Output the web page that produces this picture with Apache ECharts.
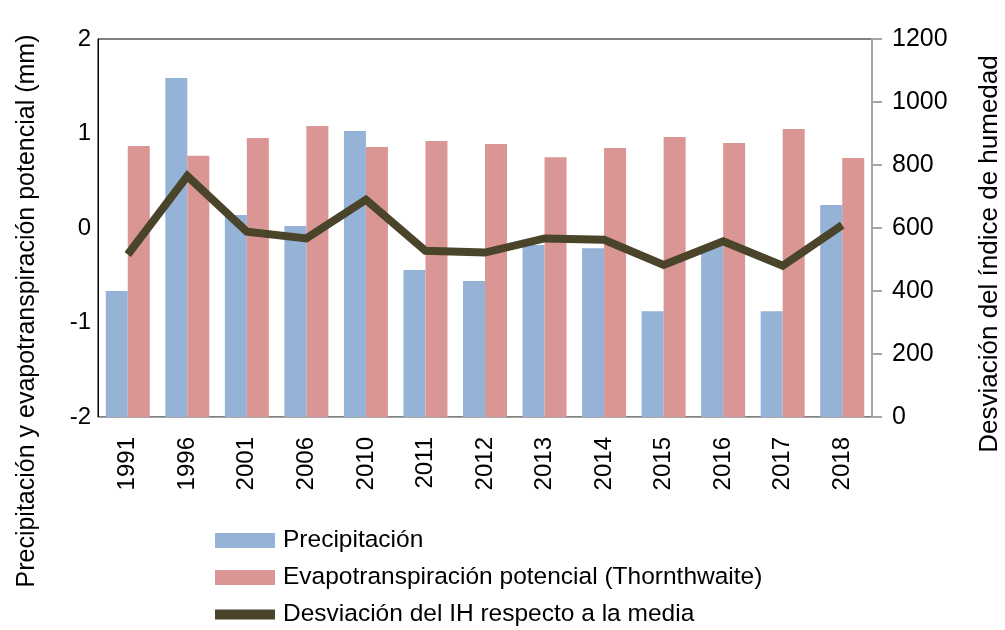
<!DOCTYPE html>
<html>
<head>
<meta charset="utf-8">
<script src="https://cdn.jsdelivr.net/npm/echarts@6/dist/echarts.min.js"></script>
<style>
  html, body { margin: 0; padding: 0; background: #fff; }
  #chart { width: 1005px; height: 630px; }
</style>
</head>
<body>
<div id="chart"></div>
<script>
// categorías (años)
const years = ["1991", "1996", "2001", "2006", "2010", "2011", "2012", "2013", "2014", "2015", "2016", "2017", "2018"];
// barras (mm) - eje derecho
const precipitacion = [400, 1076, 641, 606, 908, 467, 432, 546, 536, 336, 543, 336, 673];
const evapotranspiracion = [860, 829, 886, 924, 857, 876, 867, 825, 854, 889, 870, 914, 822];
// línea - eje izquierdo
const desviacionIH = [-0.28, 0.55, -0.04, -0.11, 0.30, -0.24, -0.26, -0.11, -0.125, -0.39, -0.14, -0.40, 0.03];

const font = "Liberation Sans, Arial, sans-serif";

const myChart = echarts.init(document.getElementById("chart"), null, { renderer: "canvas" });

myChart.setOption({
  animation: false,
  textStyle: { fontFamily: font },
  grid: {
    left: 98,
    right: 133,
    top: 39,
    bottom: 213,
    show: true,
    borderColor: "#000",
    borderWidth: 1
  },
  legend: {
    orient: "vertical",
    left: 215,
    top: 528,
    padding: 0,
    itemWidth: 60,
    itemHeight: 15,
    itemGap: 12,
    textStyle: { fontSize: 24.5, color: "#000", fontFamily: font, padding: [0, 0, 0, 3] },
    data: [
      { name: "Precipitación", icon: "rect" },
      { name: "Evapotranspiración potencial (Thornthwaite)", icon: "rect" },
      // barra más delgada para la línea
      { name: "Desviación del IH respecto a la media", icon: "path://M0,0 M0,15 M0,2.5 L60,2.5 L60,12.5 L0,12.5 Z" }
    ]
  },
  xAxis: {
    type: "category",
    data: years,
    axisLine: { show: true, onZero: false, lineStyle: { color: "#a6a6a6", width: 1 } },
    axisTick: { show: false },
    axisLabel: { rotate: 90, fontSize: 24, color: "#000", margin: 20, fontFamily: font }
  },
  yAxis: [
    {
      type: "value",
      min: -2,
      max: 2,
      interval: 1,
      position: "left",
      axisLine: { show: true, lineStyle: { color: "#000", width: 1 } },
      axisTick: { show: false },
      splitLine: { show: false },
      axisLabel: { fontSize: 24, color: "#000", margin: 7, fontFamily: font }
    },
    {
      type: "value",
      min: 0,
      max: 1200,
      interval: 200,
      position: "right",
      axisLine: { show: true, lineStyle: { color: "#a6a6a6", width: 2 } },
      axisTick: { show: true, length: 10, lineStyle: { color: "#a6a6a6", width: 2 } },
      splitLine: { show: false },
      axisLabel: {
        fontSize: 25,
        color: "#000",
        margin: 20,
        fontFamily: font,
        formatter: v => String(v)
      }
    }
  ],
  graphic: [
    {
      type: "text",
      x: 27,
      y: 311,
      rotation: Math.PI / 2,
      style: {
        text: "Precipitación y evapotranspiración potencial (mm)",
        fontSize: 25,
        fontFamily: font,
        fill: "#000",
        align: "center",
        verticalAlign: "middle"
      }
    },
    {
      type: "text",
      x: 990,
      y: 254,
      rotation: Math.PI / 2,
      style: {
        text: "Desviación del índice de humedad",
        fontSize: 26,
        fontFamily: font,
        fill: "#000",
        align: "center",
        verticalAlign: "middle"
      }
    }
  ],
  series: [
    {
      name: "Precipitación",
      type: "bar",
      yAxisIndex: 1,
      data: precipitacion,
      barWidth: 22,
      barGap: "0%",
      itemStyle: { color: "#95b3d7" }
    },
    {
      name: "Evapotranspiración potencial (Thornthwaite)",
      type: "bar",
      yAxisIndex: 1,
      data: evapotranspiracion,
      barWidth: 22,
      barGap: "0%",
      itemStyle: { color: "#d99694" }
    },
    {
      name: "Desviación del IH respecto a la media",
      type: "line",
      yAxisIndex: 0,
      data: desviacionIH,
      symbol: "none",
      z: 5,
      itemStyle: { color: "#4a442a" },
      lineStyle: { color: "#4a442a", width: 8, join: "miter" }
    }
  ]
});
</script>
</body>
</html>
